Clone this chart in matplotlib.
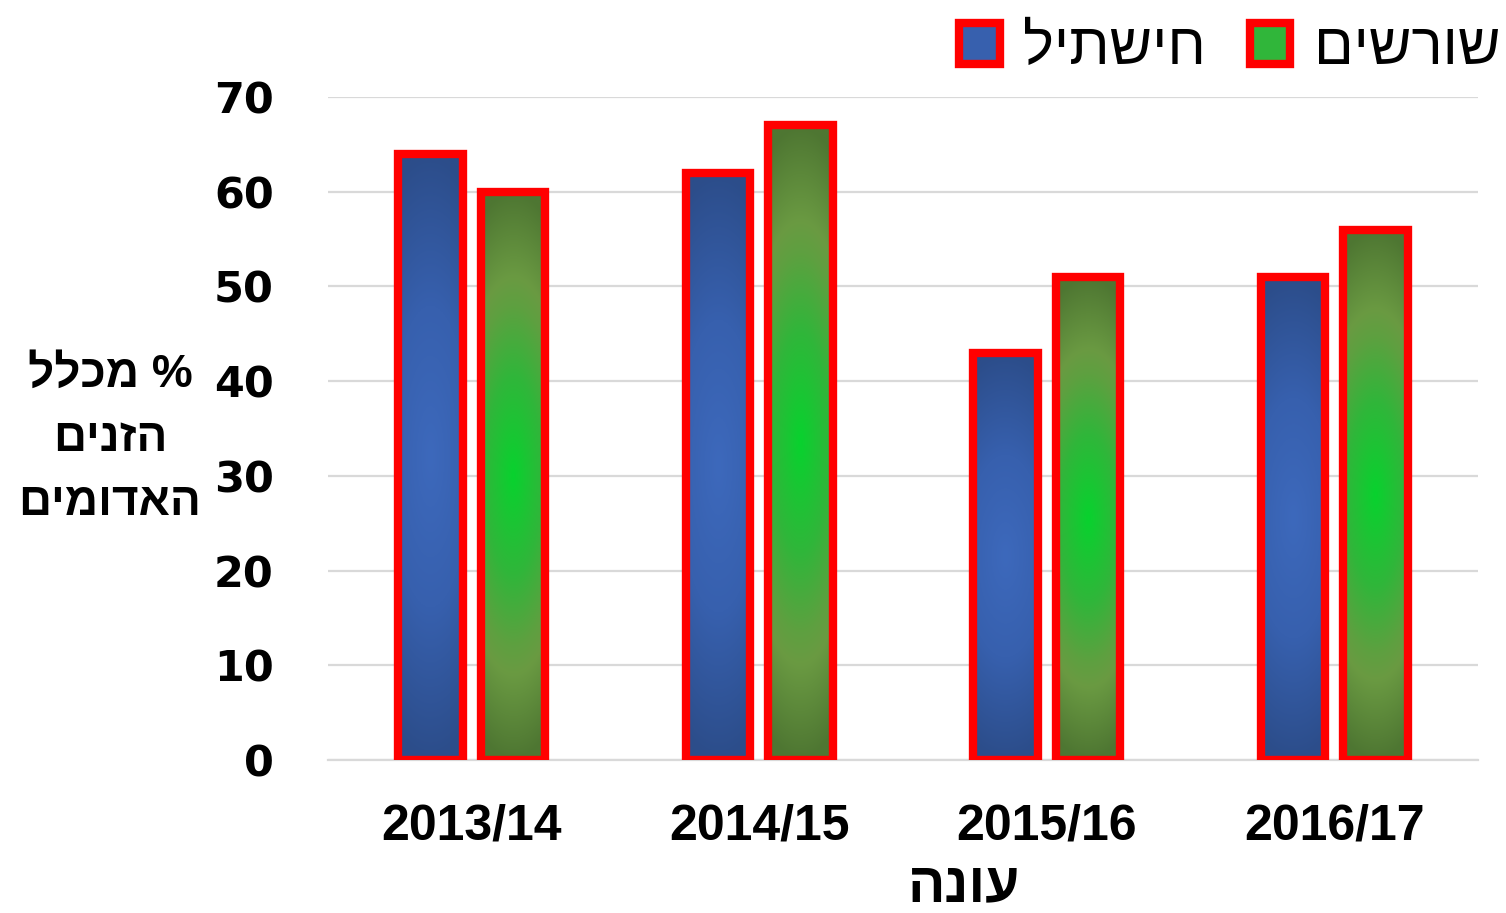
import numpy as np
import matplotlib
matplotlib.use("Agg")
import matplotlib.pyplot as plt
from matplotlib.patches import Patch
from matplotlib.colors import to_rgb

# Data (Hebrew strings written in visual order, since matplotlib has no bidi)
categories = ["2013/14", "2014/15", "2015/16", "2016/17"]
series_names = ["ליתשיח", "םישרוש"]          # חישתיל , שורשים
hishtil = [64, 62, 43, 51]
shorashim = [60, 67, 51, 56]
y_ticks = [0, 10, 20, 30, 40, 50, 60, 70]
ylabel_lines = ["ללכמ %", "םינזה", "םימודאה"]   # % מכלל / הזנים / האדומים
xlabel = "הנוע"                                   # עונה

fig = plt.figure(figsize=(15.06, 9.13), dpi=100)
ax = fig.add_axes([0.2178, 0.1676, 0.7636, 0.7262])

x = np.arange(len(categories))
width = 0.225
offset = 0.1435


def grad_img(stops, n=200, m=40):
    t = np.linspace(0, 1, n)[:, None]
    s = np.linspace(0, 1, m)[None, :]
    d = np.sqrt(((t - 0.5) * 2) ** 2 + 0.15 * ((s - 0.5) * 2) ** 2)
    d = np.clip(d, 0, 1)
    pos = np.array([p for p, _ in stops])
    cols = np.array([to_rgb(c) for _, c in stops])
    img = np.zeros((n, m, 3))
    for k in range(3):
        img[..., k] = np.interp(d, pos, cols[:, k])
    return img


blue_stops = [(0.0, "#3D69BC"), (0.5, "#3760AE"), (1.0, "#2C4D8A")]
green_stops = [(0.0, "#08D22E"), (0.35, "#30B63A"), (0.6, "#5EA040"),
               (0.7, "#6A9A42"), (1.0, "#4E7632")]

for vals, off, stops in [(hishtil, -offset, blue_stops), (shorashim, offset, green_stops)]:
    bars = ax.bar(x + off, vals, width=width, facecolor="none",
                  edgecolor="#FF0000", linewidth=6, zorder=4)
    img = grad_img(stops)
    for b in bars:
        x0, y0 = b.get_x(), b.get_y()
        w, h = b.get_width(), b.get_height()
        im = ax.imshow(img, extent=(x0, x0 + w, y0, y0 + h), origin="lower",
                       aspect="auto", zorder=3, interpolation="bilinear")
        im.set_clip_path(b)

ax.set_xlim(-0.5, len(categories) - 0.5)
ax.set_ylim(0, 70)
ax.set_yticks(y_ticks)
ax.set_xticks(x)
ax.set_xticklabels(categories, family=["Liberation Sans", "DejaVu Sans"],
                   fontweight="bold", fontsize=36)
ax.set_yticklabels([str(v) for v in y_ticks], family=["DejaVu Sans"],
                   fontweight="bold", fontsize=31)
ax.tick_params(axis="both", length=0)
ax.tick_params(axis="x", pad=31)
ax.tick_params(axis="y", pad=39)
ax.grid(axis="y", color="#D9D9D9", linewidth=1.6, zorder=0)
ax.set_axisbelow(True)
for sp in ["top", "right", "left"]:
    ax.spines[sp].set_visible(False)
ax.spines["bottom"].set_color("#D9D9D9")
ax.spines["bottom"].set_linewidth(1.6)

# y label (three lines)
for i, line in enumerate(ylabel_lines):
    fig.text(110 / 1506, 1 - (375 + i * 64) / 913, line, ha="center", va="center",
             fontsize=33, fontweight="bold", family=["Liberation Sans", "DejaVu Sans"])

fig.text(964 / 1506, 1 - 901 / 913, xlabel, ha="center", va="baseline",
         fontsize=40, fontweight="bold", family=["Liberation Sans", "DejaVu Sans"])

handles = [Patch(facecolor="#3760AE", edgecolor="#FF0000", linewidth=6),
           Patch(facecolor="#30B63A", edgecolor="#FF0000", linewidth=6)]
leg = fig.legend(handles, series_names, loc="center right", ncol=2,
                 bbox_to_anchor=(1.0, 1 - 49 / 913), frameon=False,
                 prop={"family": ["Liberation Sans", "DejaVu Sans"], "size": 42},
                 handlelength=0.7, handleheight=0.7, handletextpad=0.4,
                 columnspacing=0.75, borderaxespad=0.0, borderpad=0.1)

fig.savefig("out.png", dpi=100)
